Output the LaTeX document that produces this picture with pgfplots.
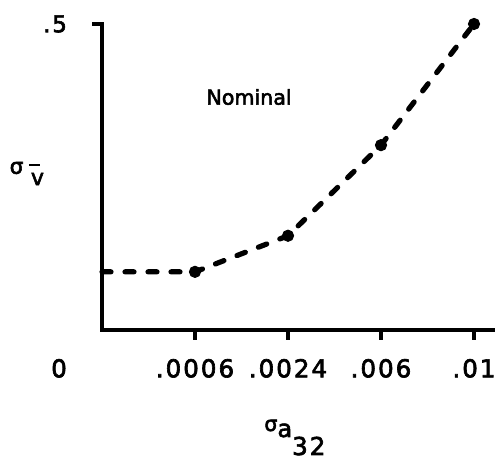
\documentclass[border=0pt]{standalone}
\usepackage{fontspec}
\setmainfont[FakeBold=2.6]{DejaVu Sans}
\newfontfamily\tickfont[LetterSpace=8, FakeBold=2.6]{DejaVu Sans}
\usepackage{pgfplots}
\pgfplotsset{compat=1.18}

% 1px of the reference = 0.5pt here
\newcommand\fs[1]{\fontsize{#1}{#1}\selectfont}

\begin{document}
\begin{tikzpicture}
\begin{axis}[
  scale only axis,
  width=195.5pt, height=153pt,
  xmin=0, xmax=4.2043, ymin=0, ymax=0.5,
  axis x line=bottom, axis y line=left,
  axis line style={-, line width=1.8pt, line cap=rect},
  xtick={1,2,3,4},
  xticklabels={.0006,.0024,.006,.01},
  ytick={0.5},
  yticklabels={.5},
  tick align=outside,
  major tick length=5pt,
  tick style={line width=1.8pt, black},
  /pgf/number format/assume math mode=true,
  x tick label style={font=\fs{12.3}\tickfont, anchor=north, yshift=-6pt},
  y tick label style={font=\fs{11.5}\tickfont, anchor=east, xshift=-9pt},
  clip=false,
]
\addplot[black, line width=2.6pt, dash pattern=on 4.5pt off 7pt, line cap=round,
  mark=*, mark size=2.8pt, mark indices={2,3,4,5},
  mark options={solid, line width=0.5pt}]
  coordinates {(0,0.095) (1,0.095) (2,0.154) (3,0.302) (4,0.5)};

% origin label
\node[font=\fs{12.3}\tickfont, anchor=north, yshift=-11pt] at (axis cs:-0.462,0) {0};
% annotation
\node[font=\fs{10.3}] at (axis cs:1.581,0.3807) {Nominal};
% y label: sigma with v-bar subscript
\node[font=\fs{10.8}] at (axis cs:-0.919,0.2647) {σ};
\node[inner sep=0pt] at (axis cs:-0.726,0.2696) {\rule{5.5pt}{1.4pt}};
\node[font=\fs{11}] at (axis cs:-0.694,0.2467) {v};
% x label: sigma_{a_32}
\node[anchor=base west, inner sep=0pt] at (axis cs:1.742,-0.1585)
  {{\fs{10.3}\raisebox{-2pt}{σ}}{\fs{12}\raisebox{-5pt}{a}}{\fs{12.3}\tickfont\raisebox{-14pt}{32}}};
% page frame corners
\coordinate (tl) at (axis cs:-1.0968,0.5392);
\coordinate (br) at (axis cs:4.2258,-0.2092);
\end{axis}
\pgfresetboundingbox
\path (tl) rectangle (br);
\end{tikzpicture}
\end{document}
